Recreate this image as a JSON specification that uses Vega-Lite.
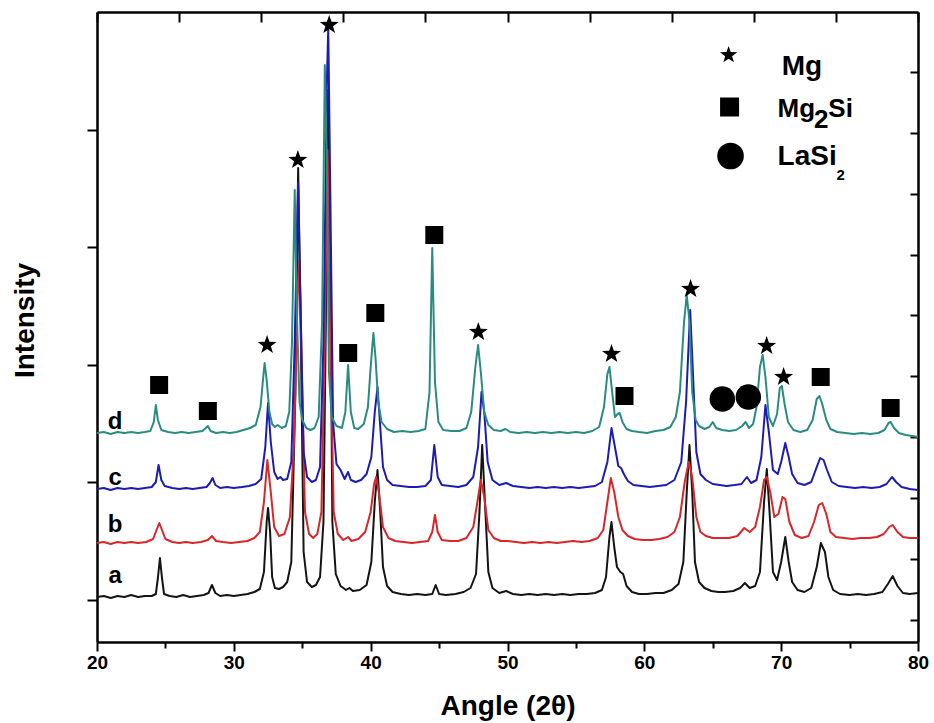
{
"$schema": "https://vega.github.io/schema/vega-lite/v6.json",
"width": 821, "height": 630,
"autosize": "none",
"padding": {"left": 97, "top": 12, "right": 16, "bottom": 81},
"background": "white",
"config": {"view": {"stroke": null}, "font": "Liberation Sans",
  "axis": {"domainColor": "black", "tickColor": "black", "domainWidth": 2.5, "tickWidth": 2, "grid": false, "labelFont": "Liberation Sans", "titleFont": "Liberation Sans", "labelColor": "black", "titleColor": "black"}},
"resolve": {"axis": {"x": "independent", "y": "independent"}},
"datasets": {
"curves": [
{"s":"a","x":20.0,"y":45},{"s":"a","x":20.5,"y":46},{"s":"a","x":21.0,"y":44},{"s":"a","x":21.5,"y":46},{"s":"a","x":22.0,"y":45},{"s":"a","x":22.5,"y":47},{"s":"a","x":23.0,"y":45},{"s":"a","x":23.5,"y":46},{"s":"a","x":24.0,"y":46},{"s":"a","x":24.3,"y":48},{"s":"a","x":24.45,"y":64},{"s":"a","x":24.6,"y":84},{"s":"a","x":24.75,"y":64},{"s":"a","x":24.9,"y":48},{"s":"a","x":25.3,"y":46},{"s":"a","x":25.8,"y":45},{"s":"a","x":26.3,"y":47},{"s":"a","x":26.8,"y":45},{"s":"a","x":27.3,"y":46},{"s":"a","x":27.8,"y":47},{"s":"a","x":28.15,"y":49},{"s":"a","x":28.4,"y":57},{"s":"a","x":28.65,"y":49},{"s":"a","x":29.0,"y":46},{"s":"a","x":29.5,"y":47},{"s":"a","x":30.0,"y":46},{"s":"a","x":30.5,"y":47},{"s":"a","x":31.0,"y":48},{"s":"a","x":31.5,"y":50},{"s":"a","x":31.9,"y":53},{"s":"a","x":32.2,"y":70},{"s":"a","x":32.4,"y":120},{"s":"a","x":32.5,"y":134},{"s":"a","x":32.65,"y":110},{"s":"a","x":32.8,"y":65},{"s":"a","x":33.0,"y":54},{"s":"a","x":33.3,"y":53},{"s":"a","x":33.6,"y":55},{"s":"a","x":33.9,"y":60},{"s":"a","x":34.2,"y":80},{"s":"a","x":34.5,"y":250},{"s":"a","x":34.7,"y":474},{"s":"a","x":34.9,"y":300},{"s":"a","x":35.1,"y":90},{"s":"a","x":35.35,"y":60},{"s":"a","x":35.7,"y":55},{"s":"a","x":36.0,"y":57},{"s":"a","x":36.3,"y":65},{"s":"a","x":36.55,"y":120},{"s":"a","x":36.75,"y":350},{"s":"a","x":36.9,"y":552},{"s":"a","x":37.05,"y":380},{"s":"a","x":37.2,"y":120},{"s":"a","x":37.45,"y":68},{"s":"a","x":37.8,"y":56},{"s":"a","x":38.2,"y":52},{"s":"a","x":38.45,"y":54},{"s":"a","x":38.7,"y":51},{"s":"a","x":39.2,"y":52},{"s":"a","x":39.7,"y":57},{"s":"a","x":40.05,"y":80},{"s":"a","x":40.3,"y":140},{"s":"a","x":40.5,"y":172},{"s":"a","x":40.7,"y":130},{"s":"a","x":40.9,"y":75},{"s":"a","x":41.2,"y":56},{"s":"a","x":41.6,"y":50},{"s":"a","x":42.2,"y":48},{"s":"a","x":42.8,"y":47},{"s":"a","x":43.4,"y":48},{"s":"a","x":44.0,"y":47},{"s":"a","x":44.5,"y":48},{"s":"a","x":44.75,"y":57},{"s":"a","x":45.0,"y":48},{"s":"a","x":45.5,"y":47},{"s":"a","x":46.2,"y":48},{"s":"a","x":46.8,"y":50},{"s":"a","x":47.3,"y":54},{"s":"a","x":47.7,"y":68},{"s":"a","x":47.95,"y":130},{"s":"a","x":48.15,"y":197},{"s":"a","x":48.35,"y":140},{"s":"a","x":48.6,"y":70},{"s":"a","x":48.9,"y":54},{"s":"a","x":49.4,"y":49},{"s":"a","x":49.9,"y":51},{"s":"a","x":50.4,"y":48},{"s":"a","x":51.0,"y":47},{"s":"a","x":51.6,"y":48},{"s":"a","x":52.2,"y":47},{"s":"a","x":52.8,"y":48},{"s":"a","x":53.4,"y":47},{"s":"a","x":54.0,"y":48},{"s":"a","x":54.6,"y":47},{"s":"a","x":55.2,"y":48},{"s":"a","x":55.8,"y":48},{"s":"a","x":56.4,"y":49},{"s":"a","x":56.9,"y":52},{"s":"a","x":57.2,"y":65},{"s":"a","x":57.45,"y":105},{"s":"a","x":57.6,"y":120},{"s":"a","x":57.8,"y":95},{"s":"a","x":58.0,"y":75},{"s":"a","x":58.25,"y":70},{"s":"a","x":58.45,"y":68},{"s":"a","x":58.7,"y":56},{"s":"a","x":59.1,"y":50},{"s":"a","x":59.6,"y":48},{"s":"a","x":60.2,"y":48},{"s":"a","x":60.8,"y":49},{"s":"a","x":61.4,"y":49},{"s":"a","x":62.0,"y":52},{"s":"a","x":62.5,"y":58},{"s":"a","x":62.85,"y":80},{"s":"a","x":63.1,"y":150},{"s":"a","x":63.3,"y":197},{"s":"a","x":63.5,"y":150},{"s":"a","x":63.7,"y":80},{"s":"a","x":64.0,"y":60},{"s":"a","x":64.4,"y":54},{"s":"a","x":64.9,"y":51},{"s":"a","x":65.4,"y":50},{"s":"a","x":65.9,"y":50},{"s":"a","x":66.5,"y":51},{"s":"a","x":67.0,"y":54},{"s":"a","x":67.35,"y":59},{"s":"a","x":67.7,"y":54},{"s":"a","x":68.1,"y":56},{"s":"a","x":68.45,"y":70},{"s":"a","x":68.75,"y":140},{"s":"a","x":68.95,"y":173},{"s":"a","x":69.15,"y":130},{"s":"a","x":69.4,"y":70},{"s":"a","x":69.7,"y":62},{"s":"a","x":70.0,"y":80},{"s":"a","x":70.3,"y":105},{"s":"a","x":70.55,"y":80},{"s":"a","x":70.8,"y":60},{"s":"a","x":71.2,"y":52},{"s":"a","x":71.7,"y":50},{"s":"a","x":72.2,"y":54},{"s":"a","x":72.6,"y":75},{"s":"a","x":72.9,"y":99},{"s":"a","x":73.2,"y":90},{"s":"a","x":73.45,"y":65},{"s":"a","x":73.8,"y":52},{"s":"a","x":74.3,"y":48},{"s":"a","x":75.0,"y":47},{"s":"a","x":75.6,"y":48},{"s":"a","x":76.2,"y":47},{"s":"a","x":76.8,"y":48},{"s":"a","x":77.4,"y":50},{"s":"a","x":77.8,"y":58},{"s":"a","x":78.15,"y":66},{"s":"a","x":78.5,"y":56},{"s":"a","x":78.9,"y":49},{"s":"a","x":79.4,"y":48},{"s":"a","x":80.0,"y":49},
{"s":"b","x":20.0,"y":99},{"s":"b","x":20.5,"y":100},{"s":"b","x":21.0,"y":98},{"s":"b","x":21.5,"y":100},{"s":"b","x":22.0,"y":99},{"s":"b","x":22.5,"y":100},{"s":"b","x":23.0,"y":99},{"s":"b","x":23.6,"y":100},{"s":"b","x":24.1,"y":103},{"s":"b","x":24.35,"y":112},{"s":"b","x":24.55,"y":119},{"s":"b","x":24.75,"y":112},{"s":"b","x":25.0,"y":103},{"s":"b","x":25.5,"y":100},{"s":"b","x":26.0,"y":99},{"s":"b","x":26.5,"y":100},{"s":"b","x":27.0,"y":99},{"s":"b","x":27.6,"y":100},{"s":"b","x":28.1,"y":102},{"s":"b","x":28.4,"y":106},{"s":"b","x":28.7,"y":101},{"s":"b","x":29.2,"y":100},{"s":"b","x":29.8,"y":99},{"s":"b","x":30.4,"y":100},{"s":"b","x":31.0,"y":101},{"s":"b","x":31.5,"y":104},{"s":"b","x":31.9,"y":110},{"s":"b","x":32.2,"y":140},{"s":"b","x":32.45,"y":182},{"s":"b","x":32.7,"y":150},{"s":"b","x":32.95,"y":115},{"s":"b","x":33.3,"y":106},{"s":"b","x":33.7,"y":108},{"s":"b","x":34.1,"y":125},{"s":"b","x":34.4,"y":200},{"s":"b","x":34.65,"y":340},{"s":"b","x":34.8,"y":382},{"s":"b","x":35.0,"y":250},{"s":"b","x":35.2,"y":130},{"s":"b","x":35.5,"y":108},{"s":"b","x":35.8,"y":104},{"s":"b","x":36.1,"y":108},{"s":"b","x":36.4,"y":130},{"s":"b","x":36.65,"y":300},{"s":"b","x":36.85,"y":492},{"s":"b","x":37.05,"y":300},{"s":"b","x":37.3,"y":130},{"s":"b","x":37.6,"y":108},{"s":"b","x":38.0,"y":102},{"s":"b","x":38.35,"y":105},{"s":"b","x":38.6,"y":101},{"s":"b","x":39.1,"y":103},{"s":"b","x":39.6,"y":110},{"s":"b","x":40.0,"y":130},{"s":"b","x":40.25,"y":158},{"s":"b","x":40.4,"y":165},{"s":"b","x":40.6,"y":150},{"s":"b","x":40.9,"y":115},{"s":"b","x":41.3,"y":104},{"s":"b","x":41.8,"y":101},{"s":"b","x":42.4,"y":100},{"s":"b","x":43.0,"y":99},{"s":"b","x":43.6,"y":100},{"s":"b","x":44.2,"y":101},{"s":"b","x":44.5,"y":110},{"s":"b","x":44.7,"y":127},{"s":"b","x":44.9,"y":110},{"s":"b","x":45.2,"y":102},{"s":"b","x":45.8,"y":101},{"s":"b","x":46.4,"y":101},{"s":"b","x":47.0,"y":104},{"s":"b","x":47.5,"y":115},{"s":"b","x":47.8,"y":140},{"s":"b","x":48.05,"y":162},{"s":"b","x":48.3,"y":145},{"s":"b","x":48.6,"y":112},{"s":"b","x":49.0,"y":104},{"s":"b","x":49.5,"y":101},{"s":"b","x":50.0,"y":101},{"s":"b","x":50.6,"y":100},{"s":"b","x":51.2,"y":99},{"s":"b","x":51.8,"y":100},{"s":"b","x":52.4,"y":99},{"s":"b","x":53.0,"y":100},{"s":"b","x":53.6,"y":99},{"s":"b","x":54.2,"y":100},{"s":"b","x":54.8,"y":101},{"s":"b","x":55.4,"y":100},{"s":"b","x":56.0,"y":101},{"s":"b","x":56.6,"y":104},{"s":"b","x":57.0,"y":112},{"s":"b","x":57.3,"y":140},{"s":"b","x":57.55,"y":164},{"s":"b","x":57.8,"y":150},{"s":"b","x":58.1,"y":125},{"s":"b","x":58.4,"y":112},{"s":"b","x":58.8,"y":106},{"s":"b","x":59.3,"y":103},{"s":"b","x":59.9,"y":102},{"s":"b","x":60.5,"y":102},{"s":"b","x":61.1,"y":103},{"s":"b","x":61.7,"y":105},{"s":"b","x":62.2,"y":110},{"s":"b","x":62.6,"y":125},{"s":"b","x":62.95,"y":160},{"s":"b","x":63.25,"y":180},{"s":"b","x":63.5,"y":165},{"s":"b","x":63.8,"y":125},{"s":"b","x":64.1,"y":110},{"s":"b","x":64.5,"y":106},{"s":"b","x":65.0,"y":104},{"s":"b","x":65.6,"y":104},{"s":"b","x":66.2,"y":104},{"s":"b","x":66.8,"y":106},{"s":"b","x":67.3,"y":114},{"s":"b","x":67.7,"y":110},{"s":"b","x":68.1,"y":115},{"s":"b","x":68.45,"y":135},{"s":"b","x":68.75,"y":162},{"s":"b","x":68.95,"y":165},{"s":"b","x":69.2,"y":150},{"s":"b","x":69.5,"y":125},{"s":"b","x":69.8,"y":128},{"s":"b","x":70.1,"y":145},{"s":"b","x":70.3,"y":143},{"s":"b","x":70.6,"y":120},{"s":"b","x":71.0,"y":107},{"s":"b","x":71.5,"y":104},{"s":"b","x":72.0,"y":106},{"s":"b","x":72.4,"y":120},{"s":"b","x":72.75,"y":137},{"s":"b","x":73.0,"y":139},{"s":"b","x":73.3,"y":128},{"s":"b","x":73.6,"y":110},{"s":"b","x":74.0,"y":105},{"s":"b","x":74.6,"y":104},{"s":"b","x":75.2,"y":103},{"s":"b","x":75.8,"y":104},{"s":"b","x":76.4,"y":104},{"s":"b","x":77.0,"y":105},{"s":"b","x":77.5,"y":108},{"s":"b","x":77.9,"y":115},{"s":"b","x":78.15,"y":117},{"s":"b","x":78.5,"y":110},{"s":"b","x":78.9,"y":105},{"s":"b","x":79.4,"y":104},{"s":"b","x":80.0,"y":104},
{"s":"c","x":20.0,"y":153},{"s":"c","x":20.5,"y":154},{"s":"c","x":21.0,"y":152},{"s":"c","x":21.5,"y":154},{"s":"c","x":22.0,"y":153},{"s":"c","x":22.5,"y":154},{"s":"c","x":23.0,"y":153},{"s":"c","x":23.5,"y":154},{"s":"c","x":24.0,"y":155},{"s":"c","x":24.3,"y":160},{"s":"c","x":24.5,"y":177},{"s":"c","x":24.7,"y":162},{"s":"c","x":24.95,"y":156},{"s":"c","x":25.5,"y":154},{"s":"c","x":26.0,"y":153},{"s":"c","x":26.5,"y":154},{"s":"c","x":27.0,"y":153},{"s":"c","x":27.5,"y":154},{"s":"c","x":28.0,"y":155},{"s":"c","x":28.25,"y":159},{"s":"c","x":28.45,"y":164},{"s":"c","x":28.65,"y":157},{"s":"c","x":29.0,"y":154},{"s":"c","x":29.5,"y":155},{"s":"c","x":30.0,"y":154},{"s":"c","x":30.6,"y":155},{"s":"c","x":31.1,"y":156},{"s":"c","x":31.6,"y":158},{"s":"c","x":32.0,"y":163},{"s":"c","x":32.3,"y":195},{"s":"c","x":32.5,"y":239},{"s":"c","x":32.7,"y":200},{"s":"c","x":32.95,"y":170},{"s":"c","x":33.2,"y":163},{"s":"c","x":33.4,"y":165},{"s":"c","x":33.6,"y":162},{"s":"c","x":33.9,"y":163},{"s":"c","x":34.2,"y":180},{"s":"c","x":34.45,"y":300},{"s":"c","x":34.7,"y":459},{"s":"c","x":34.9,"y":320},{"s":"c","x":35.1,"y":190},{"s":"c","x":35.35,"y":165},{"s":"c","x":35.7,"y":160},{"s":"c","x":36.0,"y":162},{"s":"c","x":36.3,"y":175},{"s":"c","x":36.55,"y":300},{"s":"c","x":36.8,"y":560},{"s":"c","x":36.9,"y":614},{"s":"c","x":37.05,"y":450},{"s":"c","x":37.25,"y":220},{"s":"c","x":37.5,"y":178},{"s":"c","x":37.8,"y":172},{"s":"c","x":38.1,"y":163},{"s":"c","x":38.35,"y":170},{"s":"c","x":38.55,"y":162},{"s":"c","x":38.9,"y":160},{"s":"c","x":39.3,"y":162},{"s":"c","x":39.7,"y":168},{"s":"c","x":40.05,"y":185},{"s":"c","x":40.3,"y":230},{"s":"c","x":40.5,"y":255},{"s":"c","x":40.7,"y":215},{"s":"c","x":40.9,"y":175},{"s":"c","x":41.2,"y":162},{"s":"c","x":41.6,"y":157},{"s":"c","x":42.2,"y":156},{"s":"c","x":42.8,"y":155},{"s":"c","x":43.4,"y":155},{"s":"c","x":44.0,"y":156},{"s":"c","x":44.4,"y":162},{"s":"c","x":44.65,"y":197},{"s":"c","x":44.9,"y":165},{"s":"c","x":45.2,"y":157},{"s":"c","x":45.8,"y":156},{"s":"c","x":46.4,"y":155},{"s":"c","x":47.0,"y":157},{"s":"c","x":47.5,"y":165},{"s":"c","x":47.85,"y":195},{"s":"c","x":48.1,"y":250},{"s":"c","x":48.3,"y":230},{"s":"c","x":48.55,"y":180},{"s":"c","x":48.9,"y":162},{"s":"c","x":49.4,"y":157},{"s":"c","x":49.9,"y":159},{"s":"c","x":50.4,"y":156},{"s":"c","x":51.0,"y":155},{"s":"c","x":51.6,"y":154},{"s":"c","x":52.2,"y":155},{"s":"c","x":52.8,"y":154},{"s":"c","x":53.4,"y":155},{"s":"c","x":54.0,"y":154},{"s":"c","x":54.6,"y":155},{"s":"c","x":55.2,"y":154},{"s":"c","x":55.8,"y":155},{"s":"c","x":56.4,"y":156},{"s":"c","x":56.9,"y":160},{"s":"c","x":57.3,"y":180},{"s":"c","x":57.6,"y":214},{"s":"c","x":57.85,"y":195},{"s":"c","x":58.1,"y":176},{"s":"c","x":58.3,"y":174},{"s":"c","x":58.5,"y":168},{"s":"c","x":58.8,"y":161},{"s":"c","x":59.2,"y":157},{"s":"c","x":59.8,"y":156},{"s":"c","x":60.4,"y":155},{"s":"c","x":61.0,"y":156},{"s":"c","x":61.6,"y":157},{"s":"c","x":62.2,"y":162},{"s":"c","x":62.7,"y":180},{"s":"c","x":63.05,"y":240},{"s":"c","x":63.35,"y":332},{"s":"c","x":63.55,"y":270},{"s":"c","x":63.8,"y":190},{"s":"c","x":64.1,"y":168},{"s":"c","x":64.5,"y":162},{"s":"c","x":65.0,"y":158},{"s":"c","x":65.5,"y":157},{"s":"c","x":66.0,"y":156},{"s":"c","x":66.6,"y":157},{"s":"c","x":67.1,"y":158},{"s":"c","x":67.5,"y":165},{"s":"c","x":67.8,"y":159},{"s":"c","x":68.2,"y":162},{"s":"c","x":68.55,"y":185},{"s":"c","x":68.85,"y":237},{"s":"c","x":69.1,"y":210},{"s":"c","x":69.4,"y":172},{"s":"c","x":69.75,"y":168},{"s":"c","x":70.0,"y":180},{"s":"c","x":70.3,"y":199},{"s":"c","x":70.55,"y":185},{"s":"c","x":70.8,"y":168},{"s":"c","x":71.2,"y":159},{"s":"c","x":71.7,"y":157},{"s":"c","x":72.2,"y":160},{"s":"c","x":72.6,"y":175},{"s":"c","x":72.85,"y":184},{"s":"c","x":73.1,"y":182},{"s":"c","x":73.35,"y":172},{"s":"c","x":73.7,"y":160},{"s":"c","x":74.2,"y":156},{"s":"c","x":74.8,"y":155},{"s":"c","x":75.4,"y":154},{"s":"c","x":76.0,"y":155},{"s":"c","x":76.6,"y":154},{"s":"c","x":77.2,"y":155},{"s":"c","x":77.7,"y":158},{"s":"c","x":78.1,"y":165},{"s":"c","x":78.4,"y":160},{"s":"c","x":78.8,"y":155},{"s":"c","x":79.4,"y":153},{"s":"c","x":80.0,"y":152},
{"s":"d","x":20.0,"y":209},{"s":"d","x":20.5,"y":210},{"s":"d","x":21.0,"y":208},{"s":"d","x":21.5,"y":210},{"s":"d","x":22.0,"y":209},{"s":"d","x":22.5,"y":210},{"s":"d","x":23.0,"y":209},{"s":"d","x":23.5,"y":210},{"s":"d","x":23.9,"y":211},{"s":"d","x":24.15,"y":220},{"s":"d","x":24.3,"y":237},{"s":"d","x":24.45,"y":222},{"s":"d","x":24.7,"y":212},{"s":"d","x":25.2,"y":210},{"s":"d","x":25.7,"y":209},{"s":"d","x":26.2,"y":210},{"s":"d","x":26.7,"y":209},{"s":"d","x":27.2,"y":210},{"s":"d","x":27.7,"y":211},{"s":"d","x":27.95,"y":214},{"s":"d","x":28.1,"y":216},{"s":"d","x":28.3,"y":211},{"s":"d","x":28.7,"y":209},{"s":"d","x":29.2,"y":210},{"s":"d","x":29.7,"y":209},{"s":"d","x":30.2,"y":210},{"s":"d","x":30.7,"y":212},{"s":"d","x":31.2,"y":214},{"s":"d","x":31.6,"y":217},{"s":"d","x":31.95,"y":235},{"s":"d","x":32.15,"y":265},{"s":"d","x":32.25,"y":279},{"s":"d","x":32.4,"y":262},{"s":"d","x":32.6,"y":230},{"s":"d","x":32.8,"y":218},{"s":"d","x":33.0,"y":215},{"s":"d","x":33.2,"y":217},{"s":"d","x":33.5,"y":214},{"s":"d","x":33.8,"y":216},{"s":"d","x":34.05,"y":230},{"s":"d","x":34.25,"y":300},{"s":"d","x":34.45,"y":452},{"s":"d","x":34.6,"y":330},{"s":"d","x":34.8,"y":240},{"s":"d","x":35.0,"y":222},{"s":"d","x":35.3,"y":214},{"s":"d","x":35.6,"y":212},{"s":"d","x":35.9,"y":214},{"s":"d","x":36.2,"y":225},{"s":"d","x":36.45,"y":320},{"s":"d","x":36.65,"y":577},{"s":"d","x":36.8,"y":480},{"s":"d","x":36.95,"y":270},{"s":"d","x":37.15,"y":225},{"s":"d","x":37.5,"y":216},{"s":"d","x":37.9,"y":214},{"s":"d","x":38.15,"y":230},{"s":"d","x":38.35,"y":277},{"s":"d","x":38.55,"y":230},{"s":"d","x":38.8,"y":214},{"s":"d","x":39.1,"y":213},{"s":"d","x":39.5,"y":218},{"s":"d","x":39.8,"y":235},{"s":"d","x":40.0,"y":275},{"s":"d","x":40.2,"y":309},{"s":"d","x":40.35,"y":285},{"s":"d","x":40.55,"y":240},{"s":"d","x":40.8,"y":220},{"s":"d","x":41.2,"y":213},{"s":"d","x":41.7,"y":210},{"s":"d","x":42.3,"y":211},{"s":"d","x":42.9,"y":210},{"s":"d","x":43.5,"y":211},{"s":"d","x":44.0,"y":213},{"s":"d","x":44.3,"y":250},{"s":"d","x":44.5,"y":394},{"s":"d","x":44.7,"y":260},{"s":"d","x":44.95,"y":220},{"s":"d","x":45.3,"y":212},{"s":"d","x":45.9,"y":211},{"s":"d","x":46.5,"y":211},{"s":"d","x":47.0,"y":214},{"s":"d","x":47.35,"y":230},{"s":"d","x":47.65,"y":275},{"s":"d","x":47.85,"y":297},{"s":"d","x":48.05,"y":270},{"s":"d","x":48.3,"y":230},{"s":"d","x":48.6,"y":217},{"s":"d","x":49.0,"y":212},{"s":"d","x":49.5,"y":211},{"s":"d","x":49.85,"y":213},{"s":"d","x":50.2,"y":210},{"s":"d","x":50.8,"y":209},{"s":"d","x":51.4,"y":210},{"s":"d","x":52.0,"y":209},{"s":"d","x":52.6,"y":210},{"s":"d","x":53.2,"y":209},{"s":"d","x":53.8,"y":210},{"s":"d","x":54.4,"y":209},{"s":"d","x":55.0,"y":210},{"s":"d","x":55.6,"y":209},{"s":"d","x":56.2,"y":211},{"s":"d","x":56.7,"y":215},{"s":"d","x":57.05,"y":235},{"s":"d","x":57.3,"y":268},{"s":"d","x":57.45,"y":275},{"s":"d","x":57.65,"y":250},{"s":"d","x":57.85,"y":225},{"s":"d","x":58.05,"y":228},{"s":"d","x":58.2,"y":229},{"s":"d","x":58.4,"y":220},{"s":"d","x":58.7,"y":213},{"s":"d","x":59.1,"y":211},{"s":"d","x":59.6,"y":210},{"s":"d","x":60.2,"y":209},{"s":"d","x":60.8,"y":211},{"s":"d","x":61.4,"y":212},{"s":"d","x":61.9,"y":215},{"s":"d","x":62.3,"y":225},{"s":"d","x":62.6,"y":250},{"s":"d","x":62.9,"y":320},{"s":"d","x":63.1,"y":347},{"s":"d","x":63.3,"y":320},{"s":"d","x":63.5,"y":250},{"s":"d","x":63.75,"y":222},{"s":"d","x":64.0,"y":216},{"s":"d","x":64.4,"y":213},{"s":"d","x":64.75,"y":215},{"s":"d","x":65.0,"y":220},{"s":"d","x":65.25,"y":214},{"s":"d","x":65.7,"y":212},{"s":"d","x":66.2,"y":211},{"s":"d","x":66.7,"y":212},{"s":"d","x":67.15,"y":216},{"s":"d","x":67.4,"y":220},{"s":"d","x":67.65,"y":214},{"s":"d","x":67.95,"y":218},{"s":"d","x":68.2,"y":235},{"s":"d","x":68.45,"y":275},{"s":"d","x":68.65,"y":287},{"s":"d","x":68.85,"y":265},{"s":"d","x":69.1,"y":225},{"s":"d","x":69.4,"y":216},{"s":"d","x":69.7,"y":228},{"s":"d","x":69.9,"y":254},{"s":"d","x":70.05,"y":256},{"s":"d","x":70.25,"y":238},{"s":"d","x":70.5,"y":220},{"s":"d","x":70.9,"y":212},{"s":"d","x":71.4,"y":210},{"s":"d","x":71.9,"y":212},{"s":"d","x":72.3,"y":222},{"s":"d","x":72.6,"y":243},{"s":"d","x":72.8,"y":246},{"s":"d","x":73.0,"y":238},{"s":"d","x":73.3,"y":222},{"s":"d","x":73.6,"y":213},{"s":"d","x":74.1,"y":210},{"s":"d","x":74.7,"y":209},{"s":"d","x":75.3,"y":208},{"s":"d","x":75.9,"y":209},{"s":"d","x":76.5,"y":208},{"s":"d","x":77.1,"y":209},{"s":"d","x":77.55,"y":212},{"s":"d","x":77.85,"y":219},{"s":"d","x":78.0,"y":220},{"s":"d","x":78.25,"y":214},{"s":"d","x":78.6,"y":209},{"s":"d","x":79.1,"y":207},{"s":"d","x":79.6,"y":206},{"s":"d","x":80.0,"y":205}
],
"peaks": [
{"phase":"Mg","x":32.43,"y":297},{"phase":"Mg","x":34.68,"y":482},{"phase":"Mg","x":36.97,"y":617},{"phase":"Mg","x":47.87,"y":310},{"phase":"Mg","x":57.6,"y":288},{"phase":"Mg","x":63.38,"y":353},{"phase":"Mg","x":68.94,"y":296},{"phase":"Mg","x":70.18,"y":265},
{"phase":"Mg2Si","x":24.54,"y":257},{"phase":"Mg2Si","x":28.1,"y":231},{"phase":"Mg2Si","x":38.36,"y":289},{"phase":"Mg2Si","x":40.34,"y":329},{"phase":"Mg2Si","x":44.65,"y":407},{"phase":"Mg2Si","x":58.55,"y":246},{"phase":"Mg2Si","x":72.89,"y":265},{"phase":"Mg2Si","x":78.0,"y":234},
{"phase":"LaSi2","x":65.7,"y":243},{"phase":"LaSi2","x":67.6,"y":245}
],
"legendsym": [
{"phase":"Mg","x":66.16,"y":587},{"phase":"Mg2Si","x":66.23,"y":535},{"phase":"LaSi2","x":66.3,"y":486}
],
"seriesLabels": [
{"t":"a","x":21.32,"y":59},{"t":"b","x":21.32,"y":110},{"t":"c","x":21.32,"y":157},{"t":"d","x":21.32,"y":213}
],
"legendBig": [
{"t":"Mg","x":70.04,"y":567},{"t":"LaSi","x":69.74,"y":477}
],
"legendMid": [
{"t":"Mg","x":69.74,"y":525},{"t":"2","x":72.4,"y":514},{"t":"Si","x":73.45,"y":525}
],
"legendSmall": [
{"t":"2","x":74.05,"y":462}
]
},
"layer": [
{
"data": {"name": "curves"},
"mark": {"type": "line", "strokeWidth": 2, "strokeJoin": "round"},
"encoding": {
"x": {"field": "x", "type": "quantitative", "scale": {"domain": [20, 80], "nice": false, "zero": false},
 "axis": {"orient": "bottom", "values": [20,30,40,50,60,70,80], "tickSize": 9, "labelFontSize": 19, "labelFontWeight": "bold", "labelPadding": 2, "labelFlush": false, "labelOverlap": false, "labelBound": false, "title": "Angle (2θ)", "titleFontSize": 28, "titleFontWeight": "bold", "titleX": 410.5, "titleY": 72, "titleBaseline": "alphabetic", "titleAlign": "center"}},
"y": {"field": "y", "type": "quantitative", "scale": {"domain": [0, 630], "nice": false, "zero": false},
 "axis": {"orient": "left", "values": [42,160,277,395,512], "tickSize": 10, "labels": false, "title": "Intensity", "titleFontSize": 28, "titleFontWeight": "bold", "titleX": -64, "titleY": 308, "titleAngle": -90, "titleBaseline": "alphabetic", "titleAlign": "center"}},
"color": {"field": "s", "type": "nominal", "scale": {"domain": ["a","b","c","d"], "range": ["#141414","#d8262a","#1c1cb4","#2a8c80"]}, "legend": null}
}
},
{
"data": {"name": "peaks"},
"transform": [{"filter": "datum.phase === 'Mg'"}],
"mark": {"type": "point", "shape": "M0,-1L0.235,-0.324L0.951,-0.309L0.38,0.124L0.588,0.809L0,0.4L-0.588,0.809L-0.38,0.124L-0.951,-0.309L-0.235,-0.324Z", "filled": true, "color": "black", "opacity": 1, "size": 400},
"encoding": {
"x": {"field": "x", "type": "quantitative", "axis": {"orient": "top", "values": [20,26,32,38,44,50,56,62,68,74,80], "tickSize": -10, "labels": false, "title": null}},
"y": {"field": "y", "type": "quantitative", "axis": {"orient": "right", "values": [570,509,448,387,327,266,205,144,83,22], "tickSize": -8, "labels": false, "title": null}}
}
},
{
"data": {"name": "peaks"},
"transform": [{"filter": "datum.phase === 'Mg2Si'"}],
"mark": {"type": "point", "shape": "square", "filled": true, "color": "black", "opacity": 1, "size": 324},
"encoding": {
"x": {"field": "x", "type": "quantitative", "axis": {"orient": "bottom", "values": [25,35,45,55,65,75], "tickSize": 6, "labels": false, "title": null, "domain": false}},
"y": {"field": "y", "type": "quantitative", "axis": null}
}
},
{
"data": {"name": "peaks"},
"transform": [{"filter": "datum.phase === 'LaSi2'"}],
"mark": {"type": "point", "shape": "circle", "filled": true, "color": "black", "opacity": 1, "size": 650},
"encoding": {
"x": {"field": "x", "type": "quantitative", "axis": null},
"y": {"field": "y", "type": "quantitative", "axis": null}
}
},
{
"data": {"name": "legendsym"},
"transform": [{"filter": "datum.phase === 'Mg'"}],
"mark": {"type": "point", "shape": "M0,-1L0.235,-0.324L0.951,-0.309L0.38,0.124L0.588,0.809L0,0.4L-0.588,0.809L-0.38,0.124L-0.951,-0.309L-0.235,-0.324Z", "filled": true, "color": "black", "opacity": 1, "size": 330},
"encoding": {
"x": {"field": "x", "type": "quantitative", "axis": null},
"y": {"field": "y", "type": "quantitative", "axis": null}
}
},
{
"data": {"name": "legendsym"},
"transform": [{"filter": "datum.phase === 'Mg2Si'"}],
"mark": {"type": "point", "shape": "square", "filled": true, "color": "black", "opacity": 1, "size": 361},
"encoding": {
"x": {"field": "x", "type": "quantitative", "axis": null},
"y": {"field": "y", "type": "quantitative", "axis": null}
}
},
{
"data": {"name": "legendsym"},
"transform": [{"filter": "datum.phase === 'LaSi2'"}],
"mark": {"type": "point", "shape": "circle", "filled": true, "color": "black", "opacity": 1, "size": 707},
"encoding": {
"x": {"field": "x", "type": "quantitative", "axis": null},
"y": {"field": "y", "type": "quantitative", "axis": null}
}
},
{
"data": {"name": "seriesLabels"},
"mark": {"type": "text", "fontSize": 24, "fontWeight": "bold", "font": "Liberation Sans", "align": "center", "baseline": "alphabetic", "color": "black"},
"encoding": {
"x": {"field": "x", "type": "quantitative", "axis": null},
"y": {"field": "y", "type": "quantitative", "axis": null},
"text": {"field": "t"}
}
},
{
"data": {"name": "legendBig"},
"mark": {"type": "text", "fontSize": 28, "fontWeight": "bold", "font": "Liberation Sans", "align": "left", "baseline": "alphabetic", "color": "black"},
"encoding": {
"x": {"field": "x", "type": "quantitative", "axis": null},
"y": {"field": "y", "type": "quantitative", "axis": null},
"text": {"field": "t"}
}
},
{
"data": {"name": "legendMid"},
"mark": {"type": "text", "fontSize": 26, "fontWeight": "bold", "font": "Liberation Sans", "align": "left", "baseline": "alphabetic", "color": "black"},
"encoding": {
"x": {"field": "x", "type": "quantitative", "axis": null},
"y": {"field": "y", "type": "quantitative", "axis": null},
"text": {"field": "t"}
}
},
{
"data": {"name": "legendSmall"},
"mark": {"type": "text", "fontSize": 15, "fontWeight": "bold", "font": "Liberation Sans", "align": "left", "baseline": "alphabetic", "color": "black"},
"encoding": {
"x": {"field": "x", "type": "quantitative", "axis": null},
"y": {"field": "y", "type": "quantitative", "axis": null},
"text": {"field": "t"}
}
}
]
}
